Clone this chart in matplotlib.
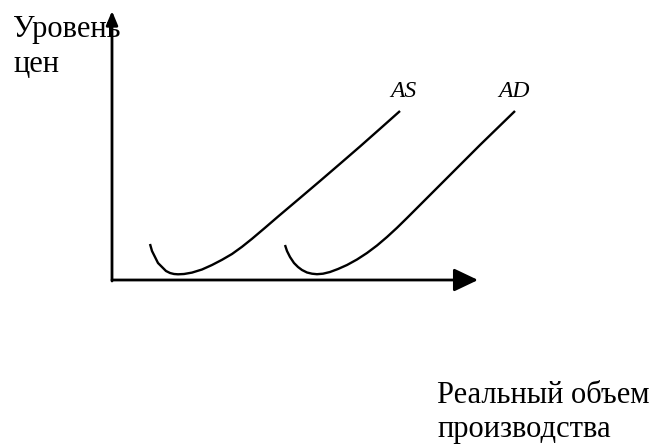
import matplotlib.pyplot as plt
from matplotlib.patches import FancyArrowPatch

# curve points (pixel space, y grows downward)
as_x = [150, 152, 155, 158, 162, 166, 170, 174, 178, 184, 192, 202, 212, 222, 232, 242, 252, 265, 278, 300, 320, 340, 360, 380, 400]
as_y = [244, 251, 257, 263, 267, 271, 273, 274, 274.3, 274, 272.6, 269.5, 265, 259.8, 254, 246.8, 238.8, 227.8, 216.6, 198, 181, 163.8, 146.5, 128.8, 111]
ad_x = [285, 287, 290, 294, 298, 302, 307, 312, 317, 323, 330, 338, 347, 357, 367, 377, 387, 397, 407, 417, 428, 453, 480, 515]
ad_y = [245, 251, 257, 263, 267, 270, 272.5, 273.7, 274.2, 273.7, 272, 269, 265, 259.5, 253, 245.5, 237, 227.8, 218, 208, 197, 172, 145, 111]

curve_labels = ['AS', 'AD']
y_title = ['Уровень', 'цен']
x_title = ['Реальный объем', 'производства']

plt.rcParams['font.family'] = ['Liberation Serif', 'DejaVu Serif']

fig = plt.figure(figsize=(6.61, 4.45), dpi=100)
ax = fig.add_axes([0, 0, 1, 1])
ax.set_xlim(0, 661)
ax.set_ylim(445, 0)
ax.axis('off')

# axes with arrows
ax.add_patch(FancyArrowPatch((112, 281), (112, 11), arrowstyle='-|>,head_length=0.6,head_width=0.25',
                             mutation_scale=14, lw=2, color='black', shrinkA=0, shrinkB=0))
ax.add_patch(FancyArrowPatch((112, 280), (478, 280), arrowstyle='-|>,head_length=1.05,head_width=0.5',
                             mutation_scale=14, lw=2, color='black', shrinkA=0, shrinkB=0))

ax.plot(as_x, as_y, color='black', lw=1.7, solid_capstyle='butt', solid_joinstyle='round')
ax.plot(ad_x, ad_y, color='black', lw=1.7, solid_capstyle='butt', solid_joinstyle='round')

ax.text(390, 97, curve_labels[0], fontsize=17, style='italic', va='baseline', ha='left')
ax.text(498, 97, curve_labels[1], fontsize=17, style='italic', va='baseline', ha='left')

ax.text(13, 37, y_title[0], fontsize=22, va='baseline', ha='left')
ax.text(13, 72, y_title[1], fontsize=22, va='baseline', ha='left')
ax.text(437, 403, x_title[0], fontsize=22, va='baseline', ha='left')
ax.text(437, 437, x_title[1], fontsize=22, va='baseline', ha='left')

fig.savefig('out.png', dpi=100)
